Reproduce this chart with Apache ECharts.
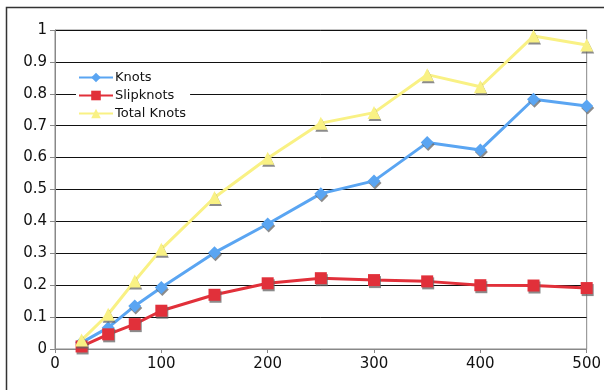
<!DOCTYPE html>
<html>
<head>
<meta charset="utf-8">
<script src="https://cdn.jsdelivr.net/npm/echarts@6/dist/echarts.min.js"></script>
<style>
  html, body { margin: 0; padding: 0; background: #fff; }
  #chart { width: 604px; height: 390px; }
</style>
</head>
<body>
<div id="chart"></div>
<script>
const xValues = [25, 50, 75, 100, 150, 200, 250, 300, 350, 400, 450, 500];
const knots = [0.02, 0.067, 0.135, 0.193, 0.302, 0.392, 0.487, 0.527, 0.647, 0.624, 0.783, 0.762];
const slipknots = [0.008, 0.046, 0.078, 0.12, 0.17, 0.206, 0.222, 0.216, 0.212, 0.2, 0.199, 0.191];
const totalKnots = [0.028, 0.109, 0.213, 0.313, 0.475, 0.598, 0.708, 0.741, 0.86, 0.822, 0.981, 0.953];

const chart = echarts.init(document.getElementById('chart'));

// grey drop shadow under each marker, like the spreadsheet original
const markerShadow = {
  shadowColor: 'rgba(100, 100, 100, 0.75)',
  shadowBlur: 0,
  shadowOffsetX: 1,
  shadowOffsetY: 2
};

function makeSeries(name, values, color, symbol, size) {
  return {
    name: name,
    type: 'line',
    data: xValues.map((x, i) => [x, values[i]]),
    symbol: symbol,
    symbolSize: size,
    lineStyle: { color: color, width: 3 },
    itemStyle: Object.assign({ color: color }, markerShadow)
  };
}

const axisFont = { fontFamily: 'DejaVu Sans', fontSize: 15, color: '#111' };

const option = {
  backgroundColor: '#fff',
  animation: false,
  graphic: [{
    type: 'rect',
    shape: { x: 6.5, y: 7.5, width: 700, height: 500 },
    style: { fill: 'none', stroke: '#333', lineWidth: 1.5 },
    silent: true
  }],
  grid: {
    left: 55,
    right: 16,
    top: 30,
    bottom: 41,
    show: true,
    borderColor: '#888',
    borderWidth: 1
  },
  legend: {
    data: ['Knots', 'Slipknots', 'Total Knots'],
    orient: 'vertical',
    left: 76,
    top: 69,
    padding: [2, 4, 2, 2],
    itemWidth: 34,
    itemHeight: 12,
    itemGap: 5,
    backgroundColor: '#fff',
    itemStyle: { shadowColor: 'rgba(0,0,0,0)', shadowOffsetX: 0, shadowOffsetY: 0 },
    textStyle: { fontFamily: 'DejaVu Sans', fontSize: 13, color: '#111', padding: [0, 0, 0, -3] }
  },
  xAxis: {
    type: 'value',
    min: 0,
    max: 500,
    interval: 100,
    axisLine: { lineStyle: { color: '#888' } },
    axisTick: { show: true, length: 4, lineStyle: { color: '#888' } },
    axisLabel: Object.assign({ margin: 8 }, axisFont),
    splitLine: { show: false }
  },
  yAxis: {
    type: 'value',
    min: 0,
    max: 1,
    interval: 0.1,
    axisLine: { show: true, lineStyle: { color: '#888' } },
    axisTick: { show: true, length: 5, lineStyle: { color: '#888' } },
    axisLabel: Object.assign({ margin: 8 }, axisFont),
    splitLine: { show: true, lineStyle: { color: '#111', width: 1 } }
  },
  series: [
    makeSeries('Knots', knots, '#5aa5f2', 'diamond', 13),
    makeSeries('Slipknots', slipknots, '#e1303a', 'rect', 12),
    makeSeries('Total Knots', totalKnots, '#f9f184', 'triangle', 13)
  ]
};

chart.setOption(option);
</script>
</body>
</html>
